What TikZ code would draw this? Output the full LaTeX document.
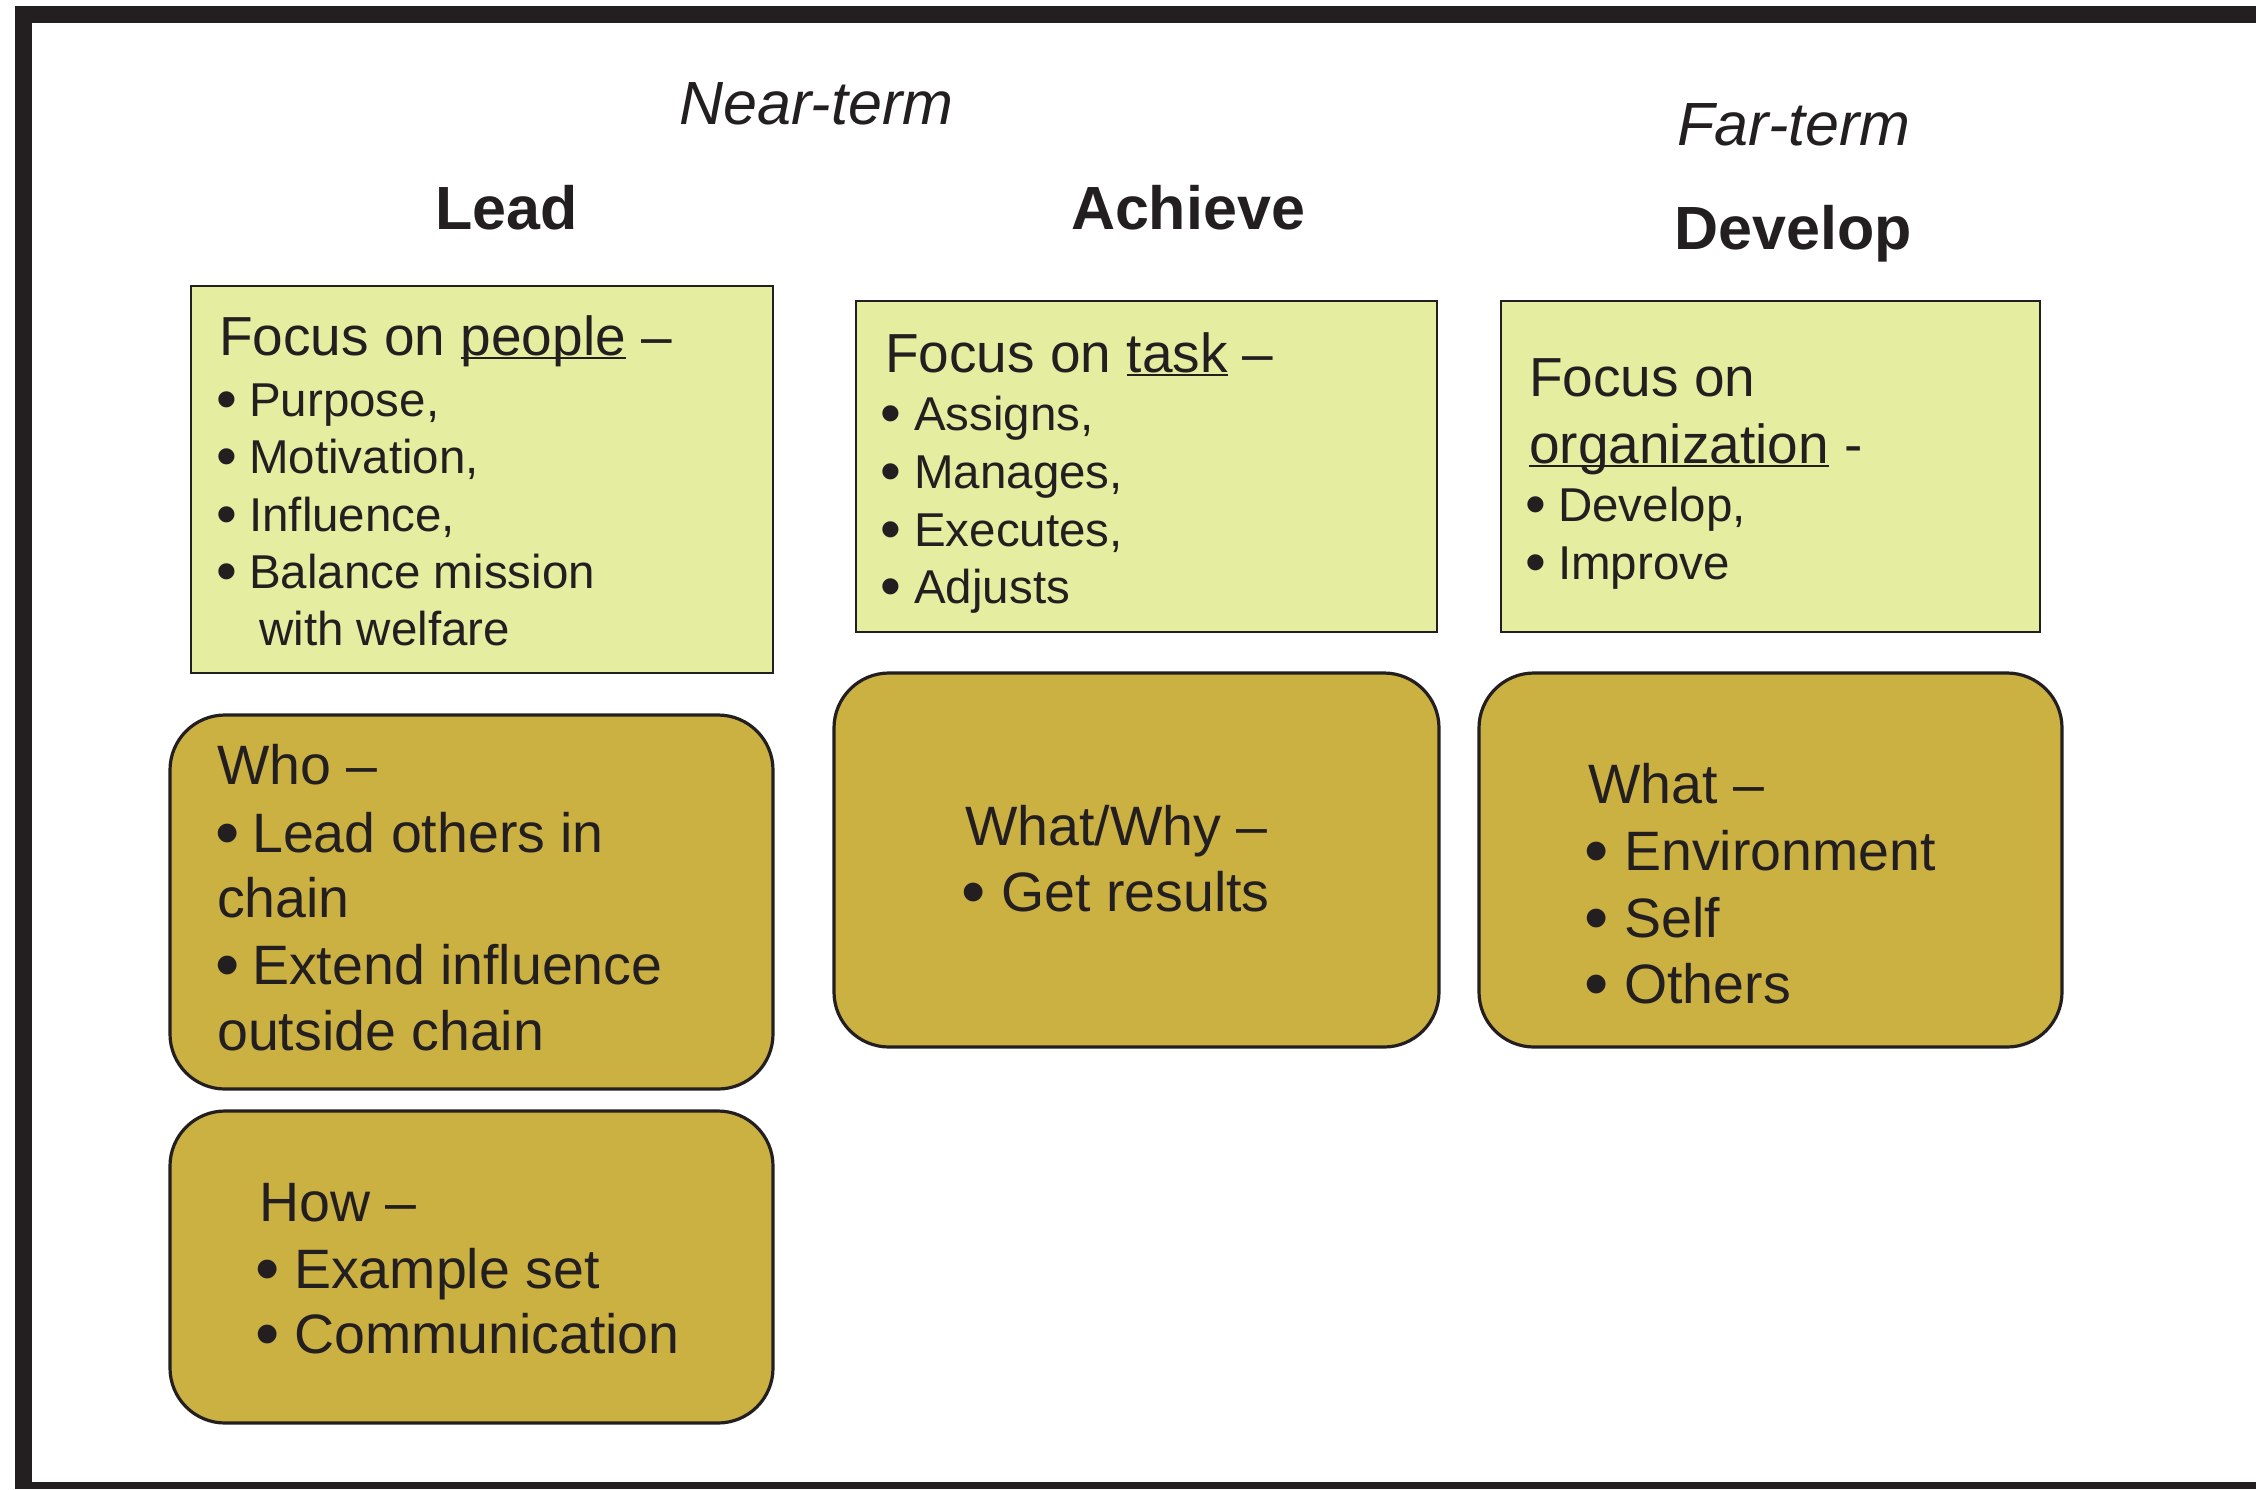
\documentclass[tikz,border=0pt]{standalone}
\usepackage{fontspec}
\usepackage{graphicx}
\setmainfont{Liberation Sans}
\definecolor{ink}{HTML}{231F20}
\definecolor{ylw}{HTML}{E5EDA0}
\definecolor{gold}{HTML}{CBB042}
\newcommand\myul[1]{\setbox0\hbox{#1}\rlap{\rule[-0.075em]{\wd0}{0.035em}}\box0\relax}
\newcommand\bul[2]{\makebox[#1][l]{\hspace{-0.06em}\raisebox{-0.08em}{\scalebox{1.25}{•}}}#2}
\tikzset{
  ybox/.style={draw=ink, line width=2pt, fill=ylw, rectangle, inner sep=0pt},
  gbox/.style={draw=ink, line width=3.2pt, fill=gold, rectangle, rounded corners=55pt, inner sep=0pt},
  ttlb/.style={anchor=base, inner sep=0pt, text=ink, font=\fontsize{61}{70}\selectfont\bfseries},
  ttli/.style={anchor=base, inner sep=0pt, text=ink, font=\fontsize{61}{70}\selectfont\itshape},
  yhead/.style={anchor=base west, inner sep=0pt, text=ink, font=\fontsize{55}{60}\selectfont},
  yitem/.style={anchor=base west, inner sep=0pt, text=ink, font=\fontsize{47.5}{57}\selectfont},
  gtxt/.style={anchor=base west, inner sep=0pt, text=ink, font=\fontsize{55.5}{66}\selectfont}
}
\begin{document}
\begin{tikzpicture}[x=1pt,y=-1pt]
\useasboundingbox (0,0) rectangle (2256,1489);
% frame
\fill[ink] (15,6) rectangle (2256,23);
\fill[ink] (15,6) rectangle (32,1489);
\fill[ink] (15,1482) rectangle (2256,1489);
% titles
\node[ttli] (near) at (816.5,124) {Near-term};
\node[ttlb] (lead) at (506.5,229) {Lead};
\node[ttlb] (achieve) at (1188,229) {Achieve};
\node[ttli] (far) at (1794,145) {Far-term};
\node[ttlb] (develop) at (1793,249) {Develop};
% boxes
\node[ybox, minimum width=582pt, minimum height=387pt] (bpeople) at (482,479.5) {};
\node[ybox, minimum width=581pt, minimum height=331pt] (btask) at (1146.5,466.5) {};
\node[ybox, minimum width=539pt, minimum height=331pt] (borg) at (1770.5,466.5) {};
\node[gbox, minimum width=603pt, minimum height=374pt] (bwho) at (471.5,902) {};
\node[gbox, minimum width=603pt, minimum height=312pt] (bhow) at (471.5,1267) {};
\node[gbox, minimum width=605pt, minimum height=374pt] (bwhy) at (1136.5,860) {};
\node[gbox, minimum width=583pt, minimum height=374pt] (bwhat) at (1770.5,860) {};
% Lead / people
\node[yhead] (p0) at (219,355) {Focus on \myul{people} –};
\node[yitem] (p1) at (219,416) {\bul{30pt}{Purpose,}};
\node[yitem] (p2) at (219,473) {\bul{30pt}{Motivation,}};
\node[yitem] (p3) at (219,531) {\bul{30pt}{Influence,}};
\node[yitem] (p4) at (219,588) {\bul{30pt}{Balance mission}};
\node[yitem] (p5) at (259,645) {with welfare};
% Achieve / task
\node[yhead] (t0) at (885,372) {Focus on \myul{task} –};
\node[yitem] (t1) at (883,430) {\bul{31pt}{Assigns,}};
\node[yitem] (t2) at (883,488) {\bul{31pt}{Manages,}};
\node[yitem] (t3) at (883,546) {\bul{31pt}{Executes,}};
\node[yitem] (t4) at (883,603) {\bul{31pt}{Adjusts}};
% Develop / organization
\node[yhead] (o0) at (1529,396) {Focus on};
\node[yhead] (o1) at (1529,463) {\myul{organization} -};
\node[yitem] (o2) at (1528,521) {\bul{30pt}{Develop,}};
\node[yitem] (o3) at (1528,579) {\bul{30pt}{Improve}};
% Who
\node[gtxt] (w0) at (217,784) {Who –};
\node[gtxt] (w1) at (219,852) {\bul{33pt}{Lead others in}};
\node[gtxt] (w2) at (217,917) {chain};
\node[gtxt] (w3) at (219,984) {\bul{33pt}{Extend influence}};
\node[gtxt] (w4) at (217,1050) {outside chain};
% How
\node[gtxt] (h0) at (259,1221) {How –};
\node[gtxt] (h1) at (259,1288) {\bul{35pt}{Example set}};
\node[gtxt] (h2) at (259,1353) {\bul{35pt}{Communication}};
% What/Why
\node[gtxt] (y0) at (965,845) {What/Why –};
\node[gtxt] (y1) at (965,911) {\bul{36pt}{Get results}};
% What
\node[gtxt] (a0) at (1588,803) {What –};
\node[gtxt] (a1) at (1588,870) {\bul{36pt}{Environment}};
\node[gtxt] (a2) at (1588,937) {\bul{36pt}{Self}};
\node[gtxt] (a3) at (1588,1003) {\bul{36pt}{Others}};
\end{tikzpicture}
\end{document}
